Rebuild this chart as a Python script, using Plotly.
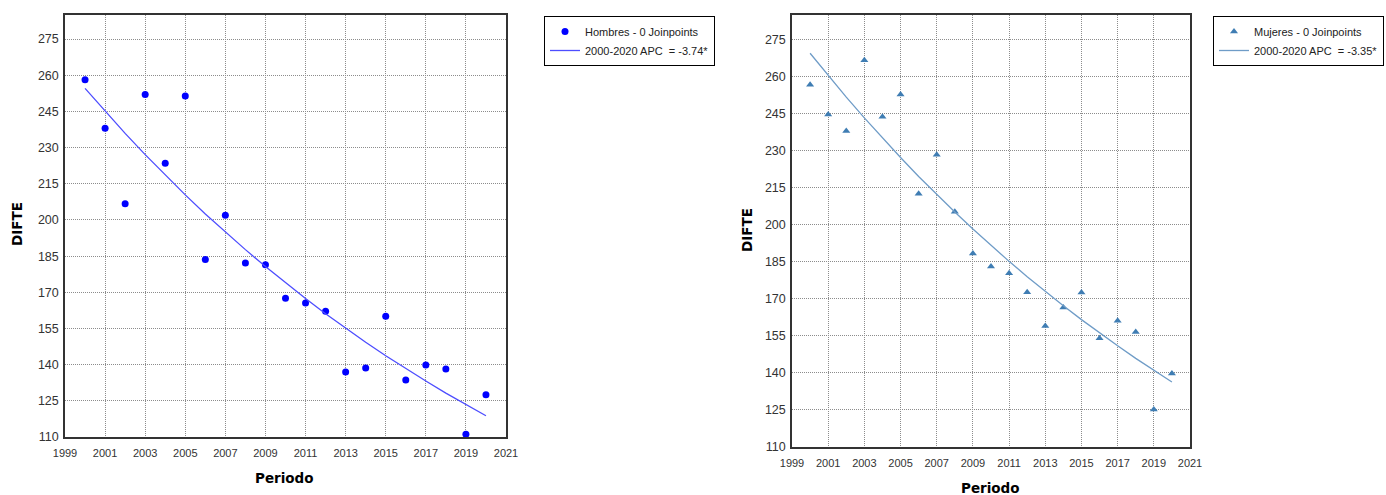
import plotly.graph_objects as go

# ---- data ----
years = [2000, 2001, 2002, 2003, 2004, 2005, 2006, 2007, 2008, 2009, 2010,
         2011, 2012, 2013, 2014, 2015, 2016, 2017, 2018, 2019, 2020]
hombres = [258.2, 238.0, 206.7, 252.0, 223.5, 251.4, 183.6, 202.0, 182.2, 181.4, 167.5,
           165.6, 162.1, 137.0, 138.6, 160.1, 133.6, 139.9, 138.2, 111.1, 127.5]
hombres_fit = [254.6, 245.1, 235.9, 227.1, 218.6, 210.4, 202.5, 195.0, 187.7, 180.7, 173.9,
               167.4, 161.1, 155.1, 149.3, 143.7, 138.3, 133.2, 128.2, 123.4, 118.8]
mujeres = [256.7, 244.7, 238.0, 266.7, 243.8, 252.8, 212.6, 228.4, 205.3, 188.4, 183.1,
           180.4, 172.7, 159.0, 166.5, 172.6, 154.1, 161.1, 156.6, 125.2, 139.8]
mujeres_fit = [269.5, 260.5, 251.7, 243.3, 235.1, 227.3, 219.6, 212.3, 205.2, 198.3, 191.6,
               185.2, 179.0, 173.0, 167.2, 161.6, 156.2, 151.0, 145.9, 141.0, 136.3]

name_h = "Hombres - 0 Joinpoints"
name_h_fit = "2000-2020 APC  = -3.74*"
name_m = "Mujeres - 0 Joinpoints"
name_m_fit = "2000-2020 APC  = -3.35*"

x_title = "Periodo"
y_title = "DIFTE"

W, H = 1386, 495

fig = go.Figure()

fig.add_trace(go.Scatter(x=years, y=hombres, mode="markers", name=name_h,
                         marker=dict(color="#0000ff", size=7, symbol="circle"),
                         xaxis="x", yaxis="y", legend="legend"))
fig.add_trace(go.Scatter(x=years, y=hombres_fit, mode="lines", name=name_h_fit,
                         line=dict(color="#4d4dff", width=1.3),
                         xaxis="x", yaxis="y", legend="legend"))
fig.add_trace(go.Scatter(x=years, y=mujeres, mode="markers", name=name_m,
                         marker=dict(color="#3f7db3", size=7, symbol="triangle-up"),
                         xaxis="x2", yaxis="y2", legend="legend2"))
fig.add_trace(go.Scatter(x=years, y=mujeres_fit, mode="lines", name=name_m_fit,
                         line=dict(color="#6f9cc7", width=1.3),
                         xaxis="x2", yaxis="y2", legend="legend2"))

def px_x(p):
    return p / W

def px_y(p):
    return 1 - p / H

axis_common = dict(showgrid=True, gridcolor="#8c8c8c", griddash="1px,1px", gridwidth=1,
                   zeroline=False, showline=True, mirror=True, linecolor="#333333",
                   linewidth=1.5, ticks="", fixedrange=True, automargin=False)

xfont = dict(family="Liberation Sans, Arial, sans-serif", size=11, color="#333333")
yfont = dict(family="Liberation Sans, Arial, sans-serif", size=12.5, color="#333333")
legfont = dict(family="Liberation Sans, Arial, sans-serif", size=11, color="#222")

fig.update_layout(
    width=W, height=H,
    margin=dict(l=0, r=0, t=0, b=0, autoexpand=False),
    paper_bgcolor="white", plot_bgcolor="white",
    showlegend=True,
    xaxis=dict(domain=[px_x(65), px_x(506)], range=[1999, 2021], tick0=1999, dtick=2,
               anchor="y", tickfont=xfont, ticklabelstandoff=5, **axis_common),
    yaxis=dict(domain=[px_y(437), px_y(15)], range=[110, 285], tick0=110, dtick=15,
               anchor="x", tickfont=yfont, ticklabelstandoff=2, **axis_common),
    xaxis2=dict(domain=[px_x(792), px_x(1190)], range=[1999, 2021], tick0=1999, dtick=2,
                anchor="y2", tickfont=xfont, ticklabelstandoff=5, **axis_common),
    yaxis2=dict(domain=[px_y(447), px_y(15)], range=[110, 285], tick0=110, dtick=15,
                anchor="x2", tickfont=yfont, ticklabelstandoff=2, **axis_common),
    legend=dict(x=px_x(544), y=px_y(16), xanchor="left", yanchor="top",
                bordercolor="black", borderwidth=1, bgcolor="white",
                font=legfont, itemwidth=30, tracegroupgap=0),
    legend2=dict(x=px_x(1384), y=px_y(16), xanchor="right", yanchor="top",
                 bordercolor="black", borderwidth=1, bgcolor="white",
                 font=legfont, itemwidth=30, tracegroupgap=0),
)

title_font = dict(family="DejaVu Sans, Verdana, sans-serif", size=13.5, color="black")
anns = [
    dict(text="<b>%s</b>" % x_title, x=px_x(284), y=px_y(478)),
    dict(text="<b>%s</b>" % y_title, x=px_x(17), y=px_y(224), textangle=-90),
    dict(text="<b>%s</b>" % x_title, x=px_x(990), y=px_y(488)),
    dict(text="<b>%s</b>" % y_title, x=px_x(747), y=px_y(230), textangle=-90),
]
for a in anns:
    fig.add_annotation(xref="paper", yref="paper", showarrow=False,
                       xanchor="center", yanchor="middle", font=title_font, **a)

fig.write_html("out.html")
